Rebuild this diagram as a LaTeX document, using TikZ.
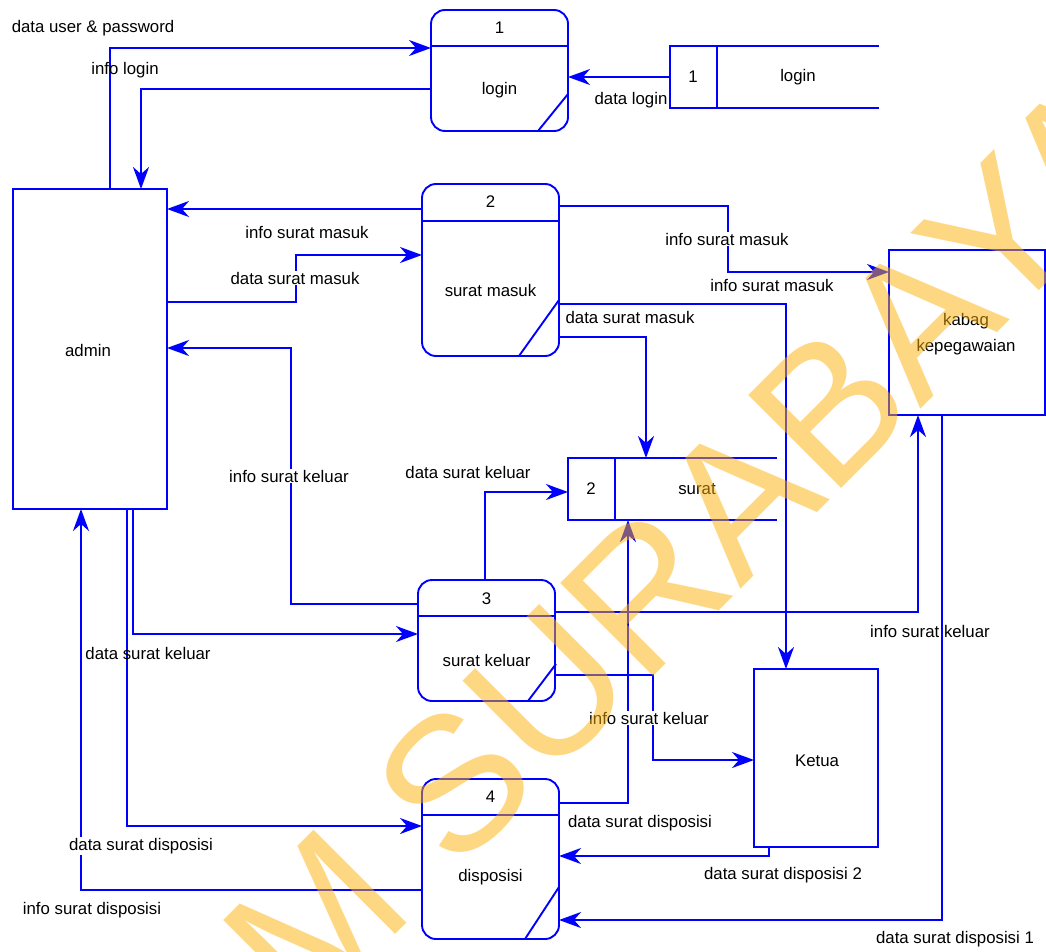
\documentclass[tikz,border=0pt]{standalone}
\usepackage{fontspec}
\setmainfont{Liberation Sans}
\usetikzlibrary{arrows.meta}
\definecolor{dfd}{RGB}{0,0,255}
\definecolor{wm}{RGB}{253,177,5}
\begin{document}
\begin{tikzpicture}[x=1pt,y=-1pt,
  line/.style={draw=dfd,line width=1.9pt},
  flow/.style={draw=dfd,line width=1.9pt,-{Stealth[length=22pt,width=16pt,inset=7pt]}},
  entity/.style={draw=dfd,line width=1.9pt,fill=white,inner sep=0pt,outer sep=0pt,align=center},
  procbox/.style={draw=dfd,line width=1.9pt,fill=white,rounded corners=14pt,inner sep=0pt,outer sep=0pt},
  storebox/.style={inner sep=0pt,outer sep=0pt},
  txt/.style={inner sep=0pt,font=\fontsize{16.8}{26}\selectfont,text=black},
  lbl/.style={txt,inner sep=1pt},
  lblw/.style={txt,inner sep=1pt,fill=white}]
\useasboundingbox[fill=white] (0,0) rectangle (1046,952);

% ---------- boxes (shapes) ----------
\node[entity,minimum width=154pt,minimum height=320pt] (admin) at (90,349) {};
\node[entity,minimum width=156pt,minimum height=165pt] (kabag) at (967,332.5) {};
\node[entity,minimum width=124pt,minimum height=178pt] (ketua) at (816,758) {};

\node[procbox,minimum width=137pt,minimum height=121pt] (p1) at (499.5,70.5) {};
\node[procbox,minimum width=137pt,minimum height=172pt] (p2) at (490.5,270) {};
\node[procbox,minimum width=137pt,minimum height=121pt] (p3) at (486.5,640.5) {};
\node[procbox,minimum width=137pt,minimum height=160pt] (p4) at (490.5,859) {};

\node[storebox,minimum width=209pt,minimum height=62pt] (s1) at (774.5,77) {};
\node[storebox,minimum width=209pt,minimum height=62pt] (s2) at (672.5,489) {};

% ---------- connectors ----------
\draw[flow] (admin.north -| 110,0) |- (p1.west |- 0,48);
\draw[flow] (p1.west |- 0,89) -| (admin.north -| 141,0);
\draw[flow] (s1.west) -- (p1.east |- s1.west);
\draw[flow] (p2.west |- 0,209) -- (admin.east |- 0,209);
\draw[flow] (admin.east |- 0,302) -- (296,302) -- (296,255) -- (p2.west |- 0,255);
\draw[flow] (p2.east |- 0,206) -- (728,206) -- (728,272) -- (kabag.west |- 0,272);
\draw[flow] (p2.east |- 0,304) -| (ketua.north -| 786,0);
\draw[flow] (p2.east |- 0,337) -| (s2.north -| 646,0);
\draw[flow] (p3.west |- 0,604) -- (291,604) -- (291,348) -- (admin.east |- 0,348);
\draw[flow] (admin.south -| 133,0) |- (p3.west |- 0,634);
\draw[flow] (p3.north -| 485,0) |- (s2.west |- 0,492);
\draw[flow] (p3.east |- 0,612) -| (kabag.south -| 918,0);
\draw[flow] (p3.east |- 0,675) -- (653,675) -- (653,760) -- (ketua.west |- 0,760);
\draw[flow] (admin.south -| 127,0) |- (p4.west |- 0,826);
\draw[flow] (p4.west |- 0,890) -| (admin.south -| 81,0);
\draw[flow] (p4.east |- 0,803) -| (s2.south -| 628,0);
\draw[flow] (ketua.south -| 769,0) |- (p4.east |- 0,856);
\draw[flow] (kabag.south -| 942,0) |- (p4.east |- 0,920);

% process details
\draw[line] (431,46) -- (568,46);
\draw[line] (568,94) -- (538,131);
\draw[line] (422,221) -- (559,221);
\draw[line] (559,300) -- (519,356);
\draw[line] (418,616) -- (555,616);
\draw[line] (556,664) -- (528,701);
\draw[line] (422,815) -- (559,815);
\draw[line] (559,887) -- (525,939);

% data stores
\draw[line] (879,46) -- (670,46) -- (670,108) -- (879,108);
\draw[line] (717,46) -- (717,108);
\draw[line] (777,458) -- (568,458) -- (568,520) -- (777,520);
\draw[line] (615,458) -- (615,520);

% ---------- texts in shapes ----------
\node[txt] (tadmin) at (88,350) {admin};
\node[txt,align=center] (tkabag) at (966,334) {kabag\\kepegawaian};
\node[txt] (tketua) at (817,761) {Ketua};
\node[txt] (p1n) at (499.5,28) {1};
\node[txt] (p1t) at (499.5,90) {login};
\node[txt] (p2n) at (490.5,202) {2};
\node[txt] (p2t) at (490.5,290) {surat masuk};
\node[txt] (p3n) at (486.5,599) {3};
\node[txt] (p3t) at (486.5,660) {surat keluar};
\node[txt] (p4n) at (490.5,797) {4};
\node[txt] (p4t) at (490.5,877) {disposisi};
\node[txt] (s1n) at (693,77) {1};
\node[txt] (s1t) at (798,77) {login};
\node[txt] (s2n) at (591,489) {2};
\node[txt] (s2t) at (697,489) {surat};

% ---------- connector labels ----------
\node[lbl] (l1) at (93,28) {data user \& password};
\node[lbl] (l2) at (125,70) {info login};
\node[lbl] (l3) at (631,100) {data login};
\node[lbl] (l4) at (307,232) {info surat masuk};
\node[lblw] (l5) at (295,278) {data surat masuk};
\node[lblw] (l6) at (727,239) {info surat masuk};
\node[lbl] (l7) at (772,285) {info surat masuk};
\node[lbl] (l8) at (630,317) {data surat masuk};
\node[lblw] (l9) at (289,476) {info surat keluar};
\node[lbl] (l10) at (468,472) {data surat keluar};
\node[lbl] (l11) at (148,653) {data surat keluar};
\node[lbl] (l12) at (930,631) {info surat keluar};
\node[lblw] (l13) at (649,718) {info surat keluar};
\node[lblw] (l14) at (141,846) {data surat disposisi};
\node[lbl] (l15) at (92,910) {info surat disposisi};
\node[lbl] (l16) at (640,823) {data surat disposisi};
\node[lbl] (l17) at (783,875) {data surat disposisi 2};
\node[lbl] (l18) at (955,939) {data surat disposisi 1};

% ---------- watermark ----------
\begin{scope}
\clip (0,0) rectangle (1046,952);
\node[inner sep=0pt,outer sep=0pt,anchor=base west,rotate=45,text=wm,opacity=0.5,
  font=\fontsize{191}{191}\selectfont] (wmark) at (-100,1430) {STIKOM SURABAYA};
\end{scope}
\end{tikzpicture}
\end{document}
